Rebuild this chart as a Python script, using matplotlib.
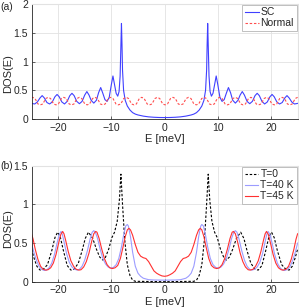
import numpy as np
import matplotlib
matplotlib.use("Agg")
import matplotlib.pyplot as plt

plt.rcParams['font.family'] = ['Liberation Sans', 'DejaVu Sans']

# ---- panel (a): superconducting vs normal DOS ----
# SC curve, positive half (mirrored, DOS symmetric)
e_sc = [0, 1, 2, 3, 4, 5, 5.5, 6, 6.5, 7, 7.4, 7.7, 7.9, 8.0, 8.1, 8.2, 8.35,
        8.55, 8.8, 9.1, 9.4, 9.7, 10.0, 10.4, 10.8, 11.2, 11.6, 12.0, 12.4,
        12.8, 13.3, 13.8, 14.2, 14.6, 15.0, 15.5, 16.0, 16.5, 17.0, 17.4,
        17.8, 18.3, 18.8, 19.3, 19.8, 20.2, 20.6, 21.1, 21.6, 22.1, 22.6,
        23.0, 23.4, 23.9, 24.4, 25.0]
dos_sc = [0.03, 0.031, 0.035, 0.042, 0.055, 0.075, 0.09, 0.115, 0.16, 0.23,
          0.33, 0.5, 0.85, 1.3, 1.66, 1.3, 0.75, 0.48, 0.4, 0.45, 0.6, 0.75,
          0.6, 0.38, 0.31, 0.34, 0.45, 0.55, 0.46, 0.33, 0.28, 0.33, 0.42,
          0.48, 0.42, 0.31, 0.27, 0.31, 0.41, 0.45, 0.41, 0.31, 0.265, 0.3,
          0.39, 0.43, 0.39, 0.3, 0.265, 0.29, 0.37, 0.41, 0.37, 0.3, 0.265,
          0.275]

e_norm = [-25.0,
          -24.8, -24.35, -23.78, -23.33, -22.88, -22.32,
          -21.87, -21.42, -20.85, -20.4, -19.95, -19.39,
          -18.94, -18.49, -17.92, -17.47, -17.02, -16.46,
          -16.01, -15.56, -14.99, -14.54, -14.09, -13.53,
          -13.08, -12.63, -12.06, -11.61, -11.16, -10.6,
          -10.15, -9.7, -9.13, -8.68, -8.23, -7.67,
          -7.22, -6.77, -6.2, -5.75, -5.3, -4.74,
          -4.29, -3.84, -3.27, -2.82, -2.37, -1.81,
          -1.36, -0.91, -0.35, 0.1, 0.55, 1.12,
          1.57, 2.02, 2.58, 3.03, 3.48, 4.05,
          4.5, 4.95, 5.51, 5.96, 6.41, 6.98,
          7.43, 7.88, 8.44, 8.89, 9.34, 9.91,
          10.36, 10.81, 11.37, 11.82, 12.27, 12.84,
          13.29, 13.74, 14.3, 14.75, 15.2, 15.77,
          16.22, 16.67, 17.23, 17.68, 18.13, 18.7,
          19.15, 19.6, 20.16, 20.61, 21.06, 21.63,
          22.08, 22.53, 23.09, 23.54, 23.99, 24.55,
          25.0]
dos_norm = [0.375,
            0.38, 0.36, 0.265, 0.25, 0.265, 0.36,
            0.38, 0.36, 0.265, 0.25, 0.265, 0.36,
            0.38, 0.36, 0.265, 0.25, 0.265, 0.36,
            0.38, 0.36, 0.265, 0.25, 0.265, 0.36,
            0.38, 0.36, 0.265, 0.25, 0.265, 0.36,
            0.38, 0.36, 0.265, 0.25, 0.265, 0.36,
            0.38, 0.36, 0.265, 0.25, 0.265, 0.36,
            0.38, 0.36, 0.265, 0.25, 0.265, 0.36,
            0.38, 0.36, 0.265, 0.25, 0.265, 0.36,
            0.38, 0.36, 0.265, 0.25, 0.265, 0.36,
            0.38, 0.36, 0.265, 0.25, 0.265, 0.36,
            0.38, 0.36, 0.265, 0.25, 0.265, 0.36,
            0.38, 0.36, 0.265, 0.25, 0.265, 0.36,
            0.38, 0.36, 0.265, 0.25, 0.265, 0.36,
            0.38, 0.36, 0.265, 0.25, 0.265, 0.36,
            0.38, 0.36, 0.265, 0.25, 0.265, 0.36,
            0.38, 0.36, 0.265, 0.25, 0.265, 0.36,
            0.38]

# ---- panel (b): temperature dependence (positive halves, mirrored) ----
e_t0 = [0, 5.5, 6.0, 6.5, 7.0, 7.5, 7.9, 8.2, 8.5, 8.9, 9.4, 9.9, 10.5, 11.2,
        11.6, 12.2, 12.8, 13.5, 14.3, 14.9, 15.5, 16.2, 17.0, 17.6, 18.3,
        19.0, 19.6, 20.1, 20.6, 21.2, 22.0, 22.8, 23.4, 24.0, 24.5, 25.0]
dos_t0 = [0.0, 0.005, 0.02, 0.08, 0.22, 0.55, 1.0, 1.39, 1.05, 0.78, 0.64,
          0.57, 0.42, 0.30, 0.28, 0.32, 0.42, 0.56, 0.64, 0.56, 0.40, 0.24,
          0.16, 0.15, 0.21, 0.40, 0.58, 0.64, 0.57, 0.40, 0.22, 0.16, 0.15,
          0.20, 0.30, 0.42]

e_t40 = [0, 2, 3, 4, 4.5, 5.0, 5.5, 6.0, 6.4, 6.8, 7.0, 7.3, 7.7, 8.1, 8.6,
         9.1, 9.6, 10.1, 10.6, 11.1, 11.6, 12.1, 12.6, 13.0, 13.3, 13.6, 14.0,
         14.5, 15.0, 15.5, 16.0, 16.4, 16.9, 17.4, 17.9, 18.4, 18.9, 19.2,
         19.45, 19.8, 20.2, 20.7, 21.2, 21.7, 22.2, 22.6, 23.1, 23.6, 24.1,
         24.6, 25.0]
dos_t40 = [0.02, 0.022, 0.026, 0.045, 0.07, 0.11, 0.2, 0.38, 0.58, 0.72,
           0.74, 0.72, 0.6, 0.45, 0.3, 0.22, 0.185, 0.175, 0.19, 0.23, 0.3,
           0.42, 0.56, 0.64, 0.66, 0.64, 0.55, 0.4, 0.28, 0.2, 0.16, 0.15,
           0.16, 0.19, 0.25, 0.36, 0.52, 0.61, 0.65, 0.61, 0.5, 0.35, 0.24,
           0.18, 0.15, 0.145, 0.16, 0.2, 0.28, 0.39, 0.5]

e_t45 = [0, 0.5, 1.0, 1.5, 2.0, 2.5, 3.0, 3.5, 4.0, 4.5, 5.0, 5.5, 6.0, 6.4,
         6.7, 7.0, 7.4, 7.8, 8.3, 8.8, 9.3, 9.8, 10.3, 10.8, 11.3, 11.8, 12.3,
         12.7, 12.95, 13.3, 13.7, 14.2, 14.7, 15.2, 15.7, 16.1, 16.6, 17.1,
         17.6, 18.1, 18.6, 18.9, 19.15, 19.5, 19.9, 20.4, 20.9, 21.4, 21.9,
         22.3, 22.8, 23.3, 23.8, 24.3, 24.7, 25.0]
dos_t45 = [0.07, 0.075, 0.09, 0.11, 0.14, 0.2, 0.26, 0.3, 0.31, 0.33, 0.38,
           0.48, 0.6, 0.67, 0.69, 0.67, 0.58, 0.45, 0.3, 0.21, 0.18, 0.17,
           0.18, 0.22, 0.3, 0.42, 0.56, 0.64, 0.65, 0.62, 0.52, 0.37, 0.26,
           0.19, 0.155, 0.15, 0.16, 0.2, 0.27, 0.39, 0.54, 0.62, 0.65, 0.61,
           0.5, 0.35, 0.24, 0.18, 0.155, 0.15, 0.16, 0.2, 0.29, 0.42, 0.55,
           0.62]


def mirror(e, d):
    e = np.asarray(e, float)
    d = np.asarray(d, float)
    return np.concatenate([-e[:0:-1], e]), np.concatenate([d[:0:-1], d])


grey = '#262626'


def style(ax, ylim, yticks, ylabs, label_y):
    ax.set_xlim(-25, 25)
    ax.set_ylim(*ylim)
    ax.set_xticks([-20, -10, 0, 10, 20])
    ax.set_yticks(yticks)
    ax.set_yticklabels(ylabs)
    ax.grid(True, color='#e2e2e2', lw=0.6)
    ax.set_axisbelow(True)
    for s in ['top', 'right']:
        ax.spines[s].set_color('#e2e2e2')
    for s in ['left', 'bottom']:
        ax.spines[s].set_color(grey)
        ax.spines[s].set_linewidth(0.6)
    ax.tick_params(direction='in', length=2, width=0.5, colors=grey,
                   labelsize=7.5, pad=2.5)
    ax.set_xlabel('E [meV]', fontsize=8, color=grey, labelpad=1)
    ax.set_ylabel('DOS(E)', fontsize=8, color=grey, va='center')
    ax.yaxis.set_label_coords(-0.088, label_y)


fig = plt.figure(figsize=(2.99, 3.08), dpi=100)
ax1 = fig.add_axes([0.1054, 0.6127, 0.890, 0.375])
ax2 = fig.add_axes([0.1054, 0.0854, 0.890, 0.3766])

x, y = mirror(e_sc, dos_sc)
ax1.plot(x, y, color='#4040ff', lw=0.8, label='SC')
ax1.plot(e_norm, dos_norm, color='#ff4d4d', lw=0.8, ls=(0, (2.2, 1.6)),
         label='Normal')
style(ax1, (0, 2), [0, 0.5, 1, 1.5, 2], ['0', '0.5', '1', '1.5', '2'], 0.40)

x, y = mirror(e_t0, dos_t0)
ax2.plot(x, y, color='k', lw=0.8, ls=(0, (2.2, 1.6)), label='T=0')
x, y = mirror(e_t40, dos_t40)
ax2.plot(x, y, color='#9c9cff', lw=0.8, label='T=40 K')
x, y = mirror(e_t45, dos_t45)
ax2.plot(x, y, color='#ff3030', lw=0.8, label='T=45 K')
style(ax2, (0, 1.5), [0, 0.5, 1, 1.5], ['0', '0.5', '1', '1.5'], 0.46)

for ax in (ax1, ax2):
    leg = ax.legend(loc='upper right', fontsize=7.5, handlelength=1.3,
                    handletextpad=0.2, borderpad=0.25, labelspacing=0.1,
                    borderaxespad=0.1, fancybox=False, framealpha=1)
    leg.get_frame().set_edgecolor('#b5b5b5')
    leg.get_frame().set_linewidth(0.6)
    for t in leg.get_texts():
        t.set_color(grey)

fig.text(0.0, 0.977, '(a)', fontsize=7.5, color=grey, va='center')
fig.text(0.0, 0.46, '(b)', fontsize=7.5, color=grey, va='center')

fig.savefig('out.png', dpi=100)
